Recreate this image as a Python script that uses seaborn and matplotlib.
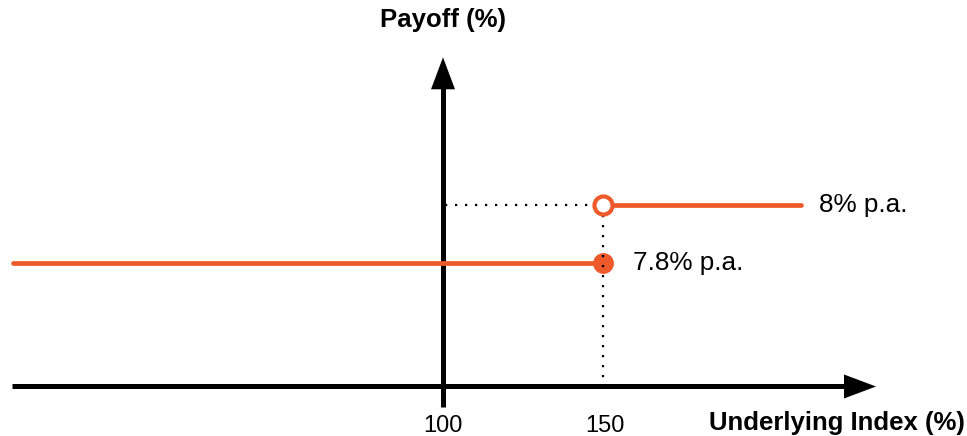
import matplotlib
matplotlib.use("Agg")
import matplotlib.pyplot as plt
import seaborn as sns
import pandas as pd

sns.set_theme(style="white")
plt.rcParams['font.family'] = ['Liberation Sans', 'DejaVu Sans']
plt.rcParams['text.color'] = 'black'

# ---- data ----
initial_level = 100          # underlying index level (%)
barrier_level = 150          # barrier (%)
x_left_end = -34.5           # left end of lower payoff line
x_right_end = 212            # right end of upper payoff line
payoff_low = 7.8             # % p.a. at or below barrier
payoff_high = 8.0            # % p.a. above barrier
tick_labels = ["100", "150"]
label_low = "7.8% p.a."
label_high = "8% p.a."
x_title = "Underlying Index (%)"
y_title = "Payoff (%)"

ORANGE = "#EF5A2A"

# ---- layout ----
W, H = 967, 436
fig = plt.figure(figsize=(W / 100, H / 100), dpi=100)
ax = fig.add_axes([0, 0, 1, 1])
XLIM = (-38.44, 263.75)
YLIM = (7.2034, 8.7069)
ax.set_xlim(*XLIM)
ax.set_ylim(*YLIM)
ax.axis("off")
px_x = (XLIM[1] - XLIM[0]) / W   # data units per pixel, horizontal
px_y = (YLIM[1] - YLIM[0]) / H   # data units per pixel, vertical

axis_y = payoff_low - 123.5 * px_y          # horizontal axis position
y_axis_bottom = axis_y - 21 * px_y
y_tip = payoff_low + 205.7 * px_y
x_axis_left = x_left_end - 1 * px_x
x_tip = initial_level + 433 * px_x
head_len = 32
head_half = 12

# vertical axis + arrowhead
y_base = y_tip - head_len * px_y
ax.plot([initial_level, initial_level], [y_axis_bottom, y_base + 2 * px_y], color="black",
        lw=3.6, solid_capstyle="butt", zorder=2)
ax.fill([initial_level - head_half * px_x, initial_level + head_half * px_x, initial_level],
        [y_base, y_base, y_tip], color="black", lw=0, zorder=2)
# horizontal axis + arrowhead
x_base = x_tip - head_len * px_x
ax.plot([x_axis_left, x_base + 2 * px_x], [axis_y, axis_y], color="black", lw=3.6,
        solid_capstyle="butt", zorder=2)
ax.fill([x_base, x_base, x_tip],
        [axis_y - head_half * px_y, axis_y + head_half * px_y, axis_y],
        color="black", lw=0, zorder=2)

# payoff segments
df_low = pd.DataFrame({"x": [x_left_end, barrier_level], "y": [payoff_low, payoff_low]})
df_high = pd.DataFrame({"x": [barrier_level, x_right_end], "y": [payoff_high, payoff_high]})
sns.lineplot(data=df_low, x="x", y="y", ax=ax, color=ORANGE, lw=3.4, zorder=3)
sns.lineplot(data=df_high, x="x", y="y", ax=ax, color=ORANGE, lw=3.4, zorder=3)

# filled dot at barrier (low payoff)
ax.plot([barrier_level], [payoff_low], "o", color=ORANGE, ms=14, zorder=4)

# dotted guides
ax.plot([initial_level + 2 * px_x, barrier_level], [payoff_high, payoff_high], color="black",
        lw=1.6, linestyle=(0, (1, 3.5)), zorder=5)
ax.plot([barrier_level, barrier_level], [payoff_high, axis_y + 6 * px_y], color="black",
        lw=1.6, linestyle=(0, (1, 3.5)), zorder=5)

# open circle at barrier (high payoff)
ax.plot([barrier_level], [payoff_high], "o", mfc="white", mec=ORANGE, mew=3, ms=13, zorder=6)

# labels
ax.text(x_right_end + 5.5, payoff_high, label_high, fontsize=18.8, va="center", ha="left")
ax.text(barrier_level + 9.5, payoff_low, label_low, fontsize=18.8, va="center", ha="left")
for xv, lab in zip([initial_level, barrier_level], tick_labels):
    ax.text(xv + (0 if xv == initial_level else 0.5), 0.022, lab, fontsize=17,
            ha="center", va="center", transform=ax.get_xaxis_transform())
ax.text(0.998, 0.03, x_title, fontsize=18.5, fontweight="bold", ha="right", va="center",
        transform=ax.transAxes)
ax.text(initial_level, 0.955, y_title, fontsize=18.5, fontweight="bold", ha="center",
        va="center", transform=ax.get_xaxis_transform())

fig.savefig("out.png", dpi=100)
